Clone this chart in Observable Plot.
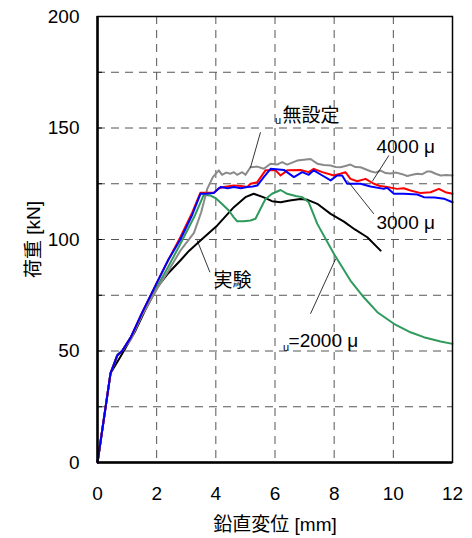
<!DOCTYPE html>
<html><head><meta charset="utf-8">
<script src="https://cdn.jsdelivr.net/npm/d3@7"></script>
<script src="https://cdn.jsdelivr.net/npm/@observablehq/plot@0.6"></script>
<style>
body{margin:0;background:#fff}
svg{font-family:"Liberation Sans","Noto Sans CJK JP",sans-serif}
</style>
</head><body><div id="chart"></div>
<script>
// 実験 (experiment)
const expX = [0,0.44,0.78,1.28,1.6,2.02,2.4,2.8,3.1,3.48,4.05,4.61,5.0,5.28,5.6,5.9,6.19,6.5,6.86,7.1,7.43,7.88,8.33,8.7,9.12,9.57];
const expY = [0,40,47.5,59,68,78.6,85,90.6,95,99.6,106.3,114.5,119,120.5,119,117.2,116.7,117.5,118.2,117.8,116,111.5,108,104.5,101,95];
// εu 無設定 (gray)
const noneX = [0,0.44,0.67,0.83,1.12,1.5,2.02,2.4,2.8,3.26,3.5,3.71,3.9,4.1,4.21,4.35,4.5,4.61,4.72,4.89,5.0,5.17,5.4,5.62,5.85,6.07,6.24,6.41,6.75,6.97,7.2,7.43,7.65,7.88,8.05,8.21,8.38,8.55,8.72,8.89,9.06,9.23,9.4,9.57,9.74,9.91,10.1,10.3,10.47,10.64,10.81,10.98,11.15,11.26,11.43,11.6,11.8,12.0];
const noneY = [0,40,48,50,55,66,78,86,95,103,112,122.7,128,131,129,130,129.5,130.2,129,130.2,129,132.4,132.7,131.7,134,133.6,134.7,133.6,135.4,135.8,136.1,134,133.4,133.2,132.5,132.4,133,133.6,132.5,132.4,131.5,130.6,130,130.9,129.8,129.6,130,129.3,128.5,129,129.5,129.3,130.5,130.5,129.5,128.7,128.9,128.7];
// 4000 μ (red)
const r4000X = [0,0.44,0.67,0.83,1.12,1.5,2.02,2.4,2.8,3.2,3.48,3.65,3.93,4.1,4.27,4.61,4.85,5.06,5.17,5.4,5.68,6.02,6.19,6.41,6.86,7.14,7.31,7.6,7.99,8.21,8.38,8.55,8.78,9.06,9.34,9.55,9.79,10.13,10.35,10.58,10.92,11.26,11.54,11.76,12.0];
const r4000Y = [0,40,48,50,56,67,81,91,101,112,121,121,121,123,123.5,124.2,124,123.5,125,125.7,131,131,128.7,131,131.2,130.2,131.7,130.2,128.7,129.5,130.2,127.2,126.1,127.2,125,124,123.5,122.7,123,122,120.8,121.2,122.7,121.2,120.5];
// 3000 μ (blue)
const b3000X = [0,0.44,0.67,0.83,1.12,1.5,2.02,2.4,2.8,3.2,3.48,3.65,3.93,4.16,4.4,4.61,4.85,5.06,5.25,5.4,5.62,5.85,6.3,6.64,6.92,7.14,7.31,7.6,7.88,8.1,8.27,8.44,8.89,9.23,9.68,9.79,10.02,10.36,10.81,11.03,11.4,11.71,12.0];
const b3000Y = [0,40,48,50,56,67,81,91,100,111,120.5,120.5,120.8,123.5,123,123.5,123,123.5,123.8,124.2,128,131.7,131.2,128,130.2,129,131,128.7,126.5,128.7,128.7,125,125,123.8,122.7,123.2,120.5,120.5,120.2,119,118.8,118.3,116.7];
// εu=2000 μ (green)
const g2000X = [0,0.44,0.67,0.83,1.12,1.5,2.02,2.4,2.8,3.3,3.59,3.82,4.0,4.2,4.44,4.6,4.72,4.95,5.17,5.34,5.51,5.68,5.9,6.19,6.41,6.7,6.92,7.14,7.43,7.99,8.55,9.0,9.46,10.02,10.58,11.03,11.6,12.0];
const g2000Y = [0,40,48.4,50,56,66,79,88,98,111,120,119.7,118.5,116,113,110,108.2,108.2,108.5,109.3,113.8,118.2,120.5,122.2,120.5,119.5,119,116.7,107,93.6,81.6,74.1,67.4,62.2,58.4,56.2,54.3,53.2];

const xTicks = [0,2,4,6,8,10,12];
const yTicks = [0,50,100,150,200];
const gridX = [2,4,6,8,10];
const gridY = [25,50,75,100,125,150,175];

const toRows = (xs, ys) => xs.map((x, i) => ({x, y: ys[i]}));
const series = [
  {rows: toRows(expX, expY), color: "#000000"},
  {rows: toRows(g2000X, g2000Y), color: "#2e9a5c"},
  {rows: toRows(noneX, noneY), color: "#8a8a8a"},
  {rows: toRows(r4000X, r4000Y), color: "#ff0000"},
  {rows: toRows(b3000X, b3000Y), color: "#0000ff"}
];

const fs = 19;
const chart = Plot.plot({
  width: 472,
  height: 538,
  marginLeft: 97,
  marginRight: 20,
  marginTop: 16,
  marginBottom: 76,
  style: {fontSize: fs + "px", fontFamily: '"Liberation Sans","Noto Sans CJK JP",sans-serif', color: "#000", background: "#fff"},
  x: {domain: [0, 12]},
  y: {domain: [0, 200]},
  marks: [
    Plot.ruleX(gridX, {stroke: "#555", strokeWidth: 1, strokeDasharray: "8,6"}),
    Plot.ruleY(gridY, {stroke: "#555", strokeWidth: 1, strokeDasharray: "8,6"}),
    Plot.axisX({ticks: xTicks, tickSize: 0, tickPadding: 24, fontSize: fs, fill: "#000", label: "鉛直変位 [mm]", labelAnchor: "center", labelArrow: "none", labelOffset: 68}),
    Plot.axisY({ticks: yTicks, tickSize: 0, tickPadding: 18, fontSize: fs, fill: "#000", label: "荷重 [kN]", labelAnchor: "center", labelArrow: "none", labelOffset: 71}),
    Plot.ruleY(gridY, {x1: 0, x2: 0.17, stroke: "#000", strokeWidth: 1}),
    ...series.map(s => Plot.line(s.rows, {x: "x", y: "y", stroke: s.color, strokeWidth: 2})),
    Plot.frame({stroke: "#000", strokeWidth: 1.5}),
    Plot.ruleX([0], {stroke: "#000", strokeWidth: 2.5}),
    Plot.ruleY([0], {stroke: "#000", strokeWidth: 2.5}),
    // leader lines
    Plot.link([{x1: 5.51, y1: 148.1, x2: 5.17, y2: 132.2}], {x1: "x1", y1: "y1", x2: "x2", y2: "y2", stroke: "#000", strokeWidth: 0.8}),
    Plot.link([{x1: 9.85, y1: 137.7, x2: 9.29, y2: 126.1}], {x1: "x1", y1: "y1", x2: "x2", y2: "y2", stroke: "#000", strokeWidth: 0.8}),
    Plot.link([{x1: 8.44, y1: 126.5, x2: 9.34, y2: 111.5}], {x1: "x1", y1: "y1", x2: "x2", y2: "y2", stroke: "#000", strokeWidth: 0.8}),
    Plot.link([{x1: 3.37, y1: 99.6, x2: 3.8, y2: 85.3}], {x1: "x1", y1: "y1", x2: "x2", y2: "y2", stroke: "#000", strokeWidth: 0.8}),
    Plot.link([{x1: 8.05, y1: 91.3, x2: 7.2, y2: 66.7}], {x1: "x1", y1: "y1", x2: "x2", y2: "y2", stroke: "#000", strokeWidth: 0.8}),
    // labels
    Plot.text(["u"], {x: 6.0, y: 153.5, textAnchor: "start", fontSize: 11, fill: "#000"}),
    Plot.text(["無設定"], {x: 6.25, y: 155.6, textAnchor: "start", fontSize: fs, fill: "#000"}),
    Plot.text(["4000 μ"], {x: 9.43, y: 141.7, textAnchor: "start", fontSize: fs, fill: "#000"}),
    Plot.text(["3000 μ"], {x: 9.43, y: 107.6, textAnchor: "start", fontSize: fs, fill: "#000"}),
    Plot.text(["実験"], {x: 3.92, y: 81.6, textAnchor: "start", fontSize: fs, fill: "#000"}),
    Plot.text(["u"], {x: 6.27, y: 51.8, textAnchor: "start", fontSize: 11, fill: "#000"}),
    Plot.text(["=2000 μ"], {x: 6.46, y: 54.7, textAnchor: "start", fontSize: fs, fill: "#000"})
  ]
});
document.getElementById("chart").appendChild(chart);
</script>
</body></html>
